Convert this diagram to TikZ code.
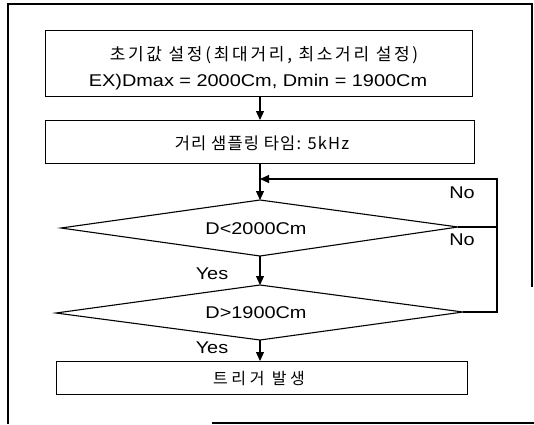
\documentclass[tikz,border=0pt]{standalone}
\usepackage{fontspec}
\setmainfont{Liberation Sans}[FakeStretch=1.17]
\newfontfamily\kr{Noto Sans CJK KR}[LetterSpace=16]
\newfontfamily\krb{Noto Sans CJK KR}[LetterSpace=7]
\newfontfamily\krw{Noto Sans CJK KR}[LetterSpace=23]
\usetikzlibrary{arrows.meta,shapes.geometric}
\tikzset{
  frame/.style={line width=1.3pt},
  box/.style={draw, line width=1.1pt, inner sep=0pt, anchor=north west},
  flow/.style={line width=1.1pt, -{Triangle[length=9pt,width=8pt]}},
  line/.style={line width=1.1pt},
  lbl/.style={font=\fontsize{17}{20}\selectfont, inner sep=0pt},
  krl/.style={font=\kr\fontsize{17}{20}\selectfont, inner sep=0pt},
  krm/.style={font=\krb\fontsize{16.5}{20}\selectfont, inner sep=0pt},
  krs/.style={font=\krw\fontsize{16}{20}\selectfont, inner sep=0pt},
}
\begin{document}
\begin{tikzpicture}[x=1pt,y=-1pt]
\useasboundingbox (0,0) rectangle (534,424);
% frame
\draw[frame] (8,424) -- (8,4) -- (532,4) -- (532,287);
\draw[frame] (212,423) -- (534,423);
% boxes
\node[box, minimum width=427pt, minimum height=66pt] (b1) at (45,30) {};
\node[krl] (t1) at (264,55) {초기값 설정(최대거리, 최소거리 설정)};
\node[lbl] (t2) at (258,82) {EX)Dmax = 2000Cm, Dmin = 1900Cm};
\node[box, minimum width=429pt, minimum height=43pt] (b2) at (45,120) {};
\node[krm] (t3) at (262,143) {거리 샘플링 타임: 5kHz};
% diamonds
\draw[line] (61,228) coordinate (d1w) -- (260,200) coordinate (d1n) -- (458,227) coordinate (d1e) -- (260,256) coordinate (d1s) -- cycle;
\node[lbl] (d1t) at (256,229) {D<2000Cm};
\draw[line] (56,313) coordinate (d2w) -- (260,285) coordinate (d2n) -- (463,312) coordinate (d2e) -- (260,340) coordinate (d2s) -- cycle;
\node[lbl] (d2t) at (256,313) {D>1900Cm};
% box 3
\node[box, minimum width=411pt, minimum height=33pt] (b3) at (56,361) {};
\node[krs] (t4) at (259,379) {트리거 발생};
% connectors
\coordinate (b1s) at (260,96);
\coordinate (b2n) at (260,120);
\coordinate (b2s) at (260,163);
\coordinate (b3n) at (260,361);
\coordinate (loopj) at (260,179);
\coordinate (rt) at (497,179);
\coordinate (rm) at (497,227);
\coordinate (rb) at (497,312);
\draw[flow] (b1s) -- (b2n);
\draw[flow] (b2s) -- (d1n);
\draw[flow] (d1s) -- (d2n);
\draw[flow] (d2s) -- (b3n);
\draw[line] (d1e) -- (rm);
\draw[flow] (d2e) -- (rb) -- (rt) -- (loopj);
% labels
\node[lbl] (no1) at (462,193) {No};
\node[lbl] (no2) at (462,240) {No};
\node[lbl] (yes1) at (212,274) {Yes};
\node[lbl] (yes2) at (212,348) {Yes};
\end{tikzpicture}
\end{document}
